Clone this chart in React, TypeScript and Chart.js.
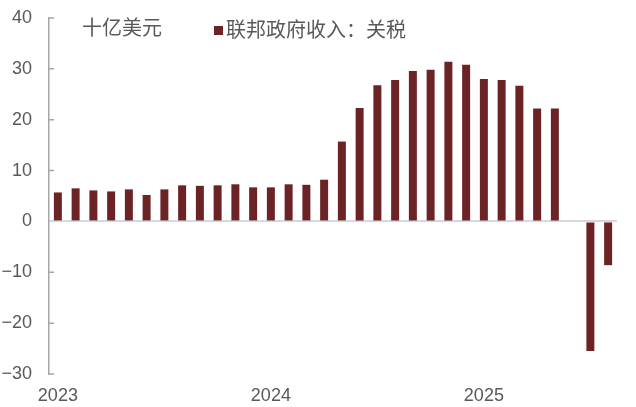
import React, { useEffect, useRef } from "react";
import { Chart, registerables } from "chart.js";

Chart.register(...registerables);

const months: string[] = [
  "2023-01", "2023-02", "2023-03", "2023-04", "2023-05", "2023-06",
  "2023-07", "2023-08", "2023-09", "2023-10", "2023-11", "2023-12",
  "2024-01", "2024-02", "2024-03", "2024-04", "2024-05", "2024-06",
  "2024-07", "2024-08", "2024-09", "2024-10", "2024-11", "2024-12",
  "2025-01", "2025-02", "2025-03", "2025-04", "2025-05", "2025-06",
  "2025-07", "2025-08",
];

const tariffRevenue: (number | null)[] = [
  5.7, 6.5, 6.1, 5.9, 6.3, 5.2, 6.3, 7.1, 7.0, 7.1, 7.3, 6.7,
  6.7, 7.3, 7.2, 8.2, 15.7, 22.3, 26.8, 27.8, 29.6, 29.8, 31.4, 30.8,
  28.0, 27.8, 26.7, 22.2, 22.2, null, -25.5, -8.6,
];

const seriesLabel = "联邦政府收入：关税";
const unitLabel = "十亿美元";
const yTicks: number[] = [-30, -20, -10, 0, 10, 20, 30, 40];

const BAR_COLOR = "#6B2325";
const TEXT_COLOR = "#595959";
const AXIS_COLOR = "#A6A6A6";
const TICK_FONT = '"Liberation Sans", Arial, sans-serif';
const CJK_FONT = '"Noto Sans CJK SC", "Noto Sans", sans-serif';

const overlayPlugin = {
  id: "overlay",
  afterDraw(chart: any) {
    const ctx = chart.ctx as CanvasRenderingContext2D;
    const y = chart.scales.y;
    const area = chart.chartArea;
    ctx.save();
    // inward tick stubs on the y axis
    ctx.strokeStyle = AXIS_COLOR;
    ctx.lineWidth = 1.5;
    ctx.beginPath();
    yTicks.forEach((t) => {
      if (t === 0) return;
      const py = y.getPixelForValue(t);
      ctx.moveTo(area.left, py);
      ctx.lineTo(area.left + 5, py);
    });
    ctx.stroke();
    // unit label
    ctx.font = `20px ${CJK_FONT}`;
    ctx.fillStyle = TEXT_COLOR;
    ctx.textBaseline = "middle";
    ctx.textAlign = "left";
    ctx.fillText(unitLabel, 82, 27);
    // legend
    ctx.fillStyle = BAR_COLOR;
    ctx.fillRect(214, 26, 9, 9);
    ctx.fillStyle = TEXT_COLOR;
    ctx.fillText(chart.data.datasets[0].label, 226, 29);
    ctx.restore();
  },
};

export default function App() {
  const canvasRef = useRef<HTMLCanvasElement | null>(null);

  useEffect(() => {
    document.body.style.margin = "0";
    const canvas = canvasRef.current;
    if (!canvas) return;
    const chart = new Chart(canvas, {
      type: "bar",
      data: {
        labels: months,
        datasets: [
          {
            label: seriesLabel,
            data: tariffRevenue,
            backgroundColor: BAR_COLOR,
            borderWidth: 0,
            categoryPercentage: 1,
            barPercentage: 0.45,
          },
        ],
      },
      options: {
        animation: false,
        responsive: true,
        maintainAspectRatio: false,
        layout: { padding: { top: 18, right: 19, left: 0, bottom: 0 } },
        plugins: {
          legend: { display: false },
          tooltip: { enabled: false },
          title: { display: false },
        },
        scales: {
          x: {
            type: "category",
            offset: true,
            grid: { display: false, drawTicks: false },
            border: { display: false },
            ticks: {
              autoSkip: false,
              maxRotation: 0,
              minRotation: 0,
              padding: 11,
              color: TEXT_COLOR,
              font: { family: TICK_FONT, size: 18 },
              callback: (_v: any, i: number) =>
                i % 12 === 0 ? months[i].slice(0, 4) : "",
            },
            afterFit: (scale: any) => {
              scale.height = 33;
              scale.paddingLeft = 0;
              scale.paddingRight = 0;
            },
          },
          y: {
            min: yTicks[0],
            max: yTicks[yTicks.length - 1],
            grid: {
              drawTicks: false,
              lineWidth: 2,
              color: (c: any) => (c.tick && c.tick.value === 0 ? "#D5D8DC" : "rgba(0,0,0,0)"),
            },
            border: { display: true, color: AXIS_COLOR, width: 1.5 },
            ticks: {
              stepSize: 10,
              padding: 17,
              color: TEXT_COLOR,
              font: { family: TICK_FONT, size: 18 },
              callback: (v: any) => (v < 0 ? "\u2212" + Math.abs(v) : String(v)),
            },
            afterFit: (scale: any) => {
              scale.width = 49;
              scale.paddingTop = 0;
              scale.paddingBottom = 0;
            },
          },
        },
      },
      plugins: [overlayPlugin],
    });
    return () => chart.destroy();
  }, []);

  return (
    <div style={{ width: 636, height: 407, position: "relative", background: "#fff" }}>
      <canvas ref={canvasRef} />
    </div>
  );
}
